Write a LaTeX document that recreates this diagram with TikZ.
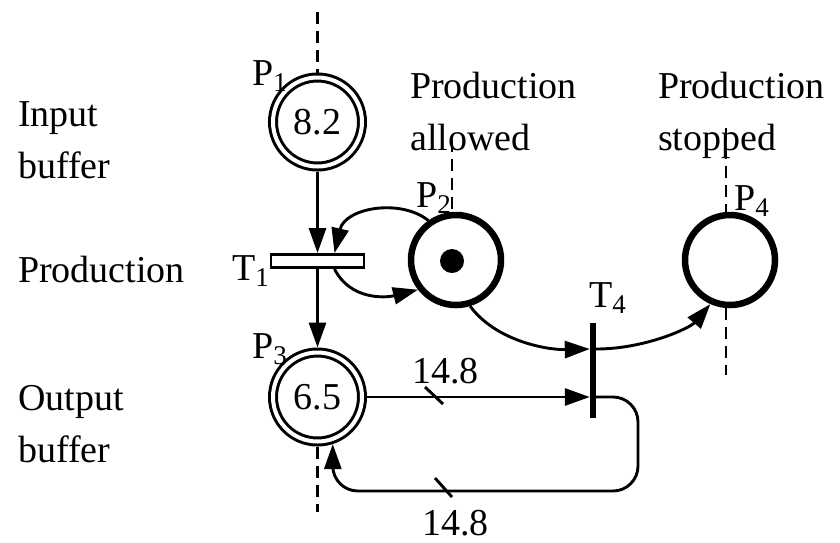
\documentclass[tikz,border=0pt]{standalone}
\usepackage{fontspec}
\setmainfont{Liberation Serif}
\usetikzlibrary{arrows.meta}
\newcommand{\sublbl}[2]{#1\raisebox{-6pt}{\fontsize{27}{27}\selectfont #2}}
\begin{document}
\begin{tikzpicture}[x=1pt,y=-1pt,
  font=\fontsize{38}{52}\selectfont,
  txt/.style={inner sep=0pt, anchor=base west, align=left},
  dblplace/.style={circle, draw, double, line width=3pt, double distance=4pt, minimum size=89pt, inner sep=0pt, outer sep=5pt},
  thkplace/.style={circle, draw, line width=6.5pt, minimum size=90pt, inner sep=0pt, outer sep=3.25pt},
  pnarc/.style={line width=2.9pt, -{Triangle[length=25pt,width=17pt]}},
  pnline/.style={line width=2.9pt},
  stub/.style={line width=2.8pt, dash pattern=on 12pt off 7pt},
]
\useasboundingbox (0,0) rectangle (840,542);

% places and transitions
\node[dblplace] (P1) at (317.5,122) {\raisebox{-8pt}{8.2}};
\node[dblplace] (P3) at (317.5,397) {\raisebox{-8pt}{6.5}};
\node[thkplace] (P2) at (456,260) {};
\node[thkplace] (P4) at (730,260) {};
\node[circle, fill=black, minimum size=24pt, inner sep=0pt] (tok) at (452,261) {};
\node[draw, fill=white, line width=2.9pt, minimum width=93pt, minimum height=13pt, inner sep=0pt] (T1) at (317.5,261) {};
\node[fill=black, minimum width=6pt, minimum height=95pt, inner sep=0pt] (T4) at (593,370.5) {};

% labels
\node[txt] (lP1) at (252,85) {\sublbl{P}{1}};
\node[txt] (lP2) at (416,207) {\sublbl{P}{2}};
\node[txt] (lP3) at (252,358) {\sublbl{P}{3}};
\node[txt] (lP4) at (734,210) {\sublbl{P}{4}};
\node[txt] (lT1) at (232,280) {\sublbl{T}{1}};
\node[txt] (lT4) at (589,307) {\sublbl{T}{4}};

\node[txt] (inbuf) at (18,178) {Input\\buffer};
\node[txt] (prod) at (18,282) {Production};
\node[txt] (outbuf) at (18,462) {Output\\buffer};
\node[txt] (allowed) at (410,150) {Production\\allowed};
\node[txt] (stopped) at (658,150) {Production\\stopped};

% dashed stubs
\coordinate (d1) at (317.5,12);
\coordinate (d2) at (452,140);
\coordinate (d4a) at (726,128);
\coordinate (d4b) at (726,375);
\coordinate (d3) at (317.5,512);
\draw[stub] (d1) -- (P1.north);
\draw[stub] (d2) -- (d2 |- P2.north);
\draw[stub] (d4a) -- (d4a |- P4.north);
\draw[stub] (d4a |- P4.south) -- (d4b);
\draw[stub] (P3.south) -- (d3);

% arcs
\draw[pnarc] (P1) -- (T1);
\draw[pnarc] (T1) -- (P3);
\draw[pnarc] (P2.125) .. controls (400,198) and (345,208) .. ([xshift=17pt]T1.north);
\draw[pnarc] ([xshift=17pt]T1.south) .. controls (350,300) and (385,298) .. (P2.218);
\draw[pnarc] (P2.287) .. controls (495,340) and (545,350) .. ([yshift=21.5pt]T4.west);
\draw[pnarc] ([yshift=21.5pt]T4.east) .. controls (645,349) and (690,328) .. (P4.246);
\draw[pnarc] (P3) -- ([yshift=-26.5pt]T4.west);
\draw[pnarc, rounded corners=25pt] ([yshift=-26.5pt]T4.east) -| (638,491) -| (P3.288);

% ticks and weights
\draw[pnline] (425,387) -- (443,404);
\draw[pnline] (435,478) -- (452,497);
\node[txt] (w1) at (412,383) {14.8};
\node[txt] (w2) at (422,535) {14.8};
\end{tikzpicture}
\end{document}
